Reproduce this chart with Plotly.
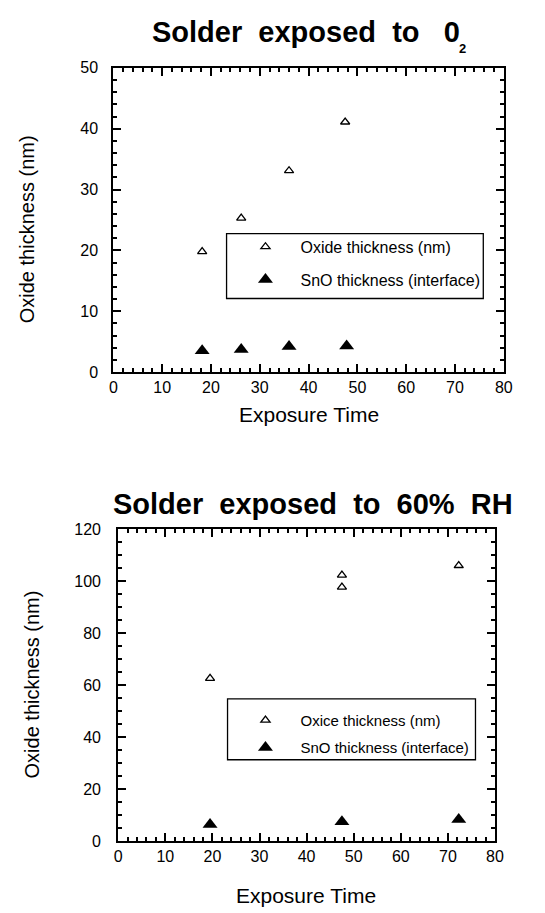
import plotly.graph_objects as go

# Solder exposed to O2
o2_oxide_time = [18.2, 26.2, 36.0, 47.5]
o2_oxide_nm = [19.8, 25.3, 33.1, 41.1]
o2_sno_time = [18.2, 26.2, 36.0, 47.8]
o2_sno_nm = [3.5, 3.7, 4.2, 4.3]

# Solder exposed to 60% RH
rh_oxide_time = [19.5, 47.5, 47.5, 72.3]
rh_oxide_nm = [62.6, 102.3, 97.7, 106.0]
rh_sno_time = [19.5, 47.5, 72.3]
rh_sno_nm = [6.4, 7.5, 8.3]

series_names = ["Oxide thickness (nm)", "SnO thickness (interface)"]
rh_series_names = ["Oxice thickness (nm)", "SnO thickness (interface)"]

W, H = 545, 913
FONT = "Liberation Sans, Arial, sans-serif"


def px(x):
    return x / W


def py(y):
    return 1 - y / H


hollow = dict(symbol="triangle-up-open", size=8, color="black", line=dict(width=1.3, color="black"))
filled = dict(symbol="triangle-up", size=13, color="black", line=dict(width=0))

fig = go.Figure()
fig.add_trace(go.Scatter(x=o2_oxide_time, y=o2_oxide_nm, mode="markers", marker=hollow,
                         name=series_names[0], legend="legend", legendgroup="a",
                         xaxis="x", yaxis="y"))
fig.add_trace(go.Scatter(x=o2_sno_time, y=o2_sno_nm, mode="markers", marker=filled,
                         name=series_names[1], legend="legend", legendgroup="b",
                         xaxis="x", yaxis="y"))
fig.add_trace(go.Scatter(x=rh_oxide_time, y=rh_oxide_nm, mode="markers", marker=hollow,
                         name=rh_series_names[0], legend="legend2", legendgroup="c",
                         xaxis="x2", yaxis="y2"))
fig.add_trace(go.Scatter(x=rh_sno_time, y=rh_sno_nm, mode="markers", marker=filled,
                         name=rh_series_names[1], legend="legend2", legendgroup="d",
                         xaxis="x2", yaxis="y2"))

axis_common = dict(
    showline=True, linecolor="black", linewidth=2, mirror="allticks",
    ticks="inside", ticklen=8, tickwidth=2, tickcolor="black",
    showgrid=False, zeroline=False, layer="above traces",
    tickfont=dict(family=FONT, size=16, color="black"),
)
minor_common = dict(ticks="inside", ticklen=4, tickcolor="black", tickwidth=1.6, showgrid=False)

fig.update_layout(
    width=W, height=H,
    margin=dict(l=0, r=0, t=0, b=0),
    paper_bgcolor="white", plot_bgcolor="white",
    font=dict(family=FONT, color="black"),
    xaxis=dict(domain=[px(112), px(512)], range=[0, 80], dtick=10,
               minor=dict(dtick=2, **minor_common),
               anchor="y", **axis_common),
    yaxis=dict(domain=[py(371), py(61)], range=[0, 50], dtick=10,
               minor=dict(dtick=2, **minor_common), ticklabelstandoff=10,
               anchor="x", **axis_common),
    xaxis2=dict(domain=[px(117), px(503)], range=[0, 80], dtick=10,
                minor=dict(dtick=2, **minor_common),
                anchor="y2", **axis_common),
    yaxis2=dict(domain=[py(849), py(531)], range=[0, 120], dtick=20,
                minor=dict(dtick=5, **minor_common), ticklabelstandoff=12,
                anchor="x2", **axis_common),
    legend=dict(x=px(232), y=py(226), xanchor="left", yanchor="top",
                bgcolor="rgba(0,0,0,0)", borderwidth=0, itemwidth=60,
                tracegroupgap=9, font=dict(family=FONT, size=16, color="black")),
    legend2=dict(x=px(232), y=py(709), xanchor="left", yanchor="top",
                 bgcolor="rgba(0,0,0,0)", borderwidth=0, itemwidth=60,
                 tracegroupgap=5, font=dict(family=FONT, size=15, color="black")),
    showlegend=True,
)

# legend frames
fig.add_shape(type="rect", xref="paper", yref="paper",
              x0=px(228), x1=px(491), y0=py(296), y1=py(230),
              line=dict(color="black", width=1.3), fillcolor="rgba(0,0,0,0)", layer="above")
fig.add_shape(type="rect", xref="paper", yref="paper",
              x0=px(229), x1=px(483), y0=py(766), y1=py(704),
              line=dict(color="black", width=1.3), fillcolor="rgba(0,0,0,0)", layer="above")

annotations = [
    dict(text="<b>Solder&nbsp; exposed&nbsp; to&nbsp;&nbsp; 0</b>", x=px(150), y=py(24),
         xanchor="left", yanchor="middle", font=dict(size=29, family=FONT)),
    dict(text="<b>2</b>", x=px(470), y=py(41),
         xanchor="center", yanchor="middle", font=dict(size=13, family=FONT)),
    dict(text="<b>Solder&nbsp; exposed&nbsp; to&nbsp; 60%&nbsp; RH</b>", x=px(110), y=py(505),
         xanchor="left", yanchor="middle", font=dict(size=29, family=FONT)),
    dict(text="Oxide thickness (nm)", x=px(23), y=py(225), textangle=-90,
         xanchor="center", yanchor="middle", font=dict(size=20, family=FONT)),
    dict(text="Oxide thickness (nm)", x=px(29), y=py(689), textangle=-90,
         xanchor="center", yanchor="middle", font=dict(size=20, family=FONT)),
    dict(text="Exposure Time", x=px(312), y=py(414),
         xanchor="center", yanchor="middle", font=dict(size=21, family=FONT)),
    dict(text="Exposure Time", x=px(309), y=py(904),
         xanchor="center", yanchor="middle", font=dict(size=21, family=FONT)),
]
for a in annotations:
    fig.add_annotation(xref="paper", yref="paper", showarrow=False, **a)

fig.write_html("out.html")
